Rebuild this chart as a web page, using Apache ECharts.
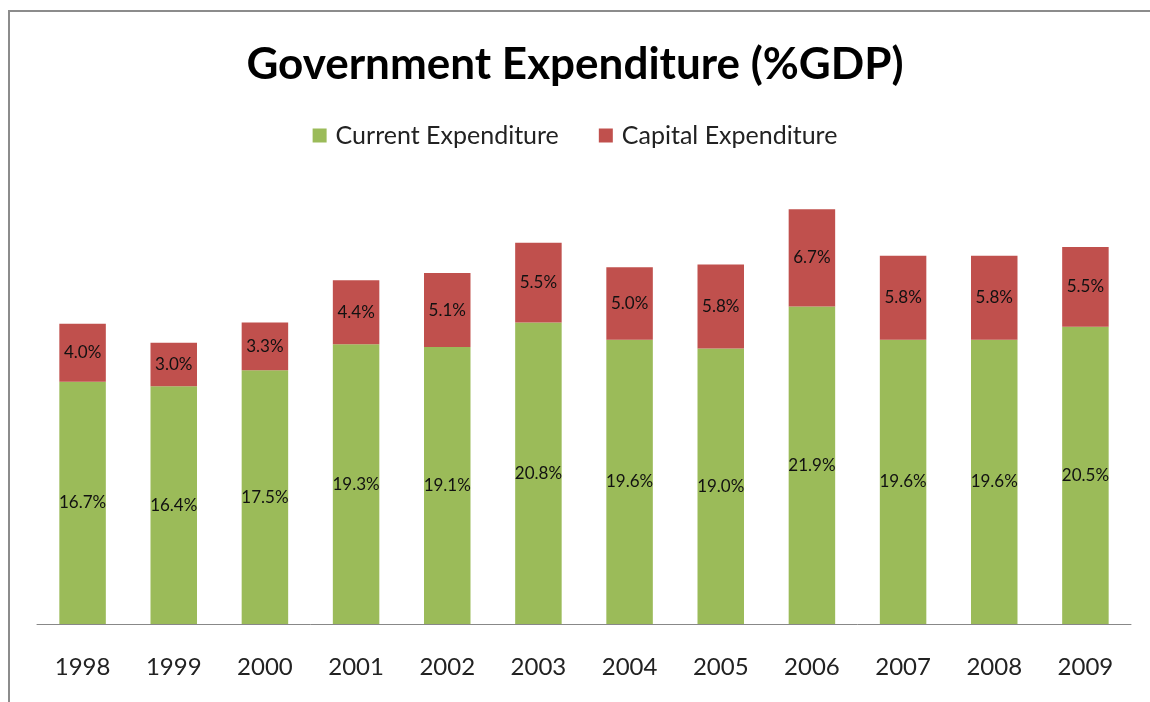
<!DOCTYPE html>
<html>
<head>
<meta charset="utf-8">
<script src="https://cdn.jsdelivr.net/npm/echarts@6/dist/echarts.min.js"></script>
<style>
  html, body { margin: 0; padding: 0; background: #fff; }
  #frame {
    position: absolute; left: 8px; top: 10px; right: 0; bottom: 0;
    border-top: 2px solid #8c8c8c; border-left: 2px solid #8c8c8c;
  }
  #chart { position: absolute; left: 0; top: 0; width: 1150px; height: 702px; }
</style>
</head>
<body>
<div id="frame"></div>
<div id="chart"></div>
<script>
// data
const years = ['1998', '1999', '2000', '2001', '2002', '2003', '2004', '2005', '2006', '2007', '2008', '2009']
const currentExp = [16.7, 16.4, 17.5, 19.3, 19.1, 20.8, 19.6, 19.0, 21.9, 19.6, 19.6, 20.5]
const capitalExp = [4.0, 3.0, 3.3, 4.4, 5.1, 5.5, 5.0, 5.8, 6.7, 5.8, 5.8, 5.5]

const font = 'Lato, "Open Sans", sans-serif'
const chart = echarts.init(document.getElementById('chart'))

const pctLabel = {
  show: true,
  position: 'inside',
  color: '#111',
  fontFamily: font,
  fontSize: 17,
  formatter: p => p.value.toFixed(1) + '%'
}

chart.setOption({
  animation: false,
  title: {
    text: 'Government Expenditure (%GDP)',
    left: 'center',
    top: 38,
    textStyle: { fontFamily: font, fontWeight: 'bold', fontSize: 44, color: '#000' }
  },
  legend: {
    top: 118,
    left: 'center',
    itemWidth: 14,
    itemHeight: 14,
    itemGap: 40,
    icon: 'rect',
    textStyle: { fontFamily: font, fontSize: 25, color: '#222', padding: [0, 0, 0, 4] },
    data: ['Current Expenditure', 'Capital Expenditure']
  },
  grid: { left: 37, right: 19, top: 189, bottom: 78, containLabel: false },
  xAxis: {
    type: 'category',
    data: years,
    axisLine: { lineStyle: { color: '#888', width: 1 } },
    axisTick: { show: false },
    axisLabel: { margin: 31, fontFamily: font, fontSize: 24, color: '#222' }
  },
  yAxis: {
    type: 'value',
    min: 0,
    max: 30,
    show: false
  },
  series: [
    {
      name: 'Current Expenditure',
      type: 'bar',
      stack: 'exp',
      barWidth: '51%',
      itemStyle: { color: '#9BBB59' },
      label: pctLabel,
      data: currentExp
    },
    {
      name: 'Capital Expenditure',
      type: 'bar',
      stack: 'exp',
      itemStyle: { color: '#C0504D' },
      label: pctLabel,
      data: capitalExp
    }
  ]
})
</script>
</body>
</html>
